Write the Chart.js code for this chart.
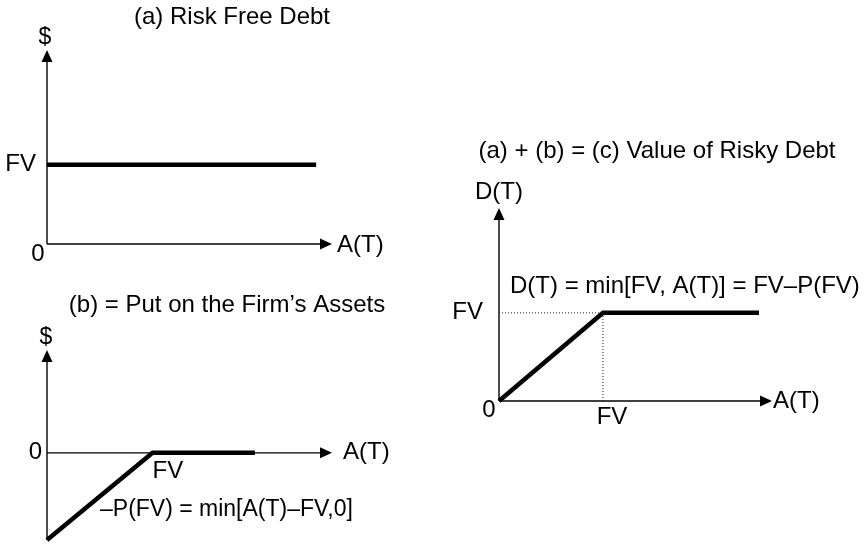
<!DOCTYPE html>
<html>
<head>
<meta charset="utf-8">
<script src="https://cdn.jsdelivr.net/npm/chart.js@4"></script>
<style>
  html,body{margin:0;padding:0;background:#fff;}
  #wrap{position:relative;width:864px;height:547px;overflow:hidden;}
  canvas{position:absolute;left:0;top:0;}
</style>
</head>
<body>
<div id="wrap">
  <canvas id="ca" width="864" height="547"></canvas>
  <canvas id="cb" width="864" height="547"></canvas>
  <canvas id="cc" width="864" height="547"></canvas>
</div>
<script>
// ---- data (FV = 1 unit; x = A(T)) ----
const riskFreeX = [0, 2.55];
const riskFreeY = [1, 1];
const putX = [0, 1, 1.97];
const putY = [-1, 0, 0];
const riskyX = [0, 1, 2.5];
const riskyY = [0, 1, 1];
const guideHX = [0, 1];
const guideHY = [1, 1];
const guideVX = [1, 1];
const guideVY = [0, 1];

const titles = ["(a) Risk Free Debt", "(b) = Put on the Firm\u2019s Assets", "(a) + (b) = (c) Value of Risky Debt"];
const yAxisLabels = ["$", "$", "D(T)"];
const xAxisLabel = "A(T)";
const fvLabel = "FV";
const zeroLabel = "0";
const putFormula = "\u2013P(FV) = min[A(T)\u2013FV,0]";
const riskyFormula = "D(T) = min[FV, A(T)] = FV\u2013P(FV)";

const FONT = '"Liberation Sans", Arial, Helvetica, sans-serif';

function pts(xs, ys){ return xs.map((x,i)=>({x:x, y:ys[i]})); }

function txt(ctx, s, x, y, align, size){
  ctx.save();
  ctx.font = (size||24) + 'px ' + FONT;
  ctx.fillStyle = '#000';
  ctx.textAlign = align || 'left';
  ctx.textBaseline = 'middle';
  ctx.fillText(s, x, y);
  ctx.restore();
}

function axesPlugin(cfg){
  return {
    id: 'axes_' + cfg.name,
    beforeDatasetsDraw(chart){
      const ctx = chart.ctx, xs = chart.scales.x, ys = chart.scales.y, a = chart.chartArea;
      const ox = xs.getPixelForValue(0), oy = ys.getPixelForValue(0);
      ctx.save();
      ctx.strokeStyle = '#000';
      ctx.fillStyle = '#000';
      ctx.lineWidth = 1.4;
      // y axis
      ctx.beginPath();
      ctx.moveTo(ox, cfg.yFromBottom ? a.bottom : oy);
      ctx.lineTo(ox, a.top + 10);
      ctx.stroke();
      // x axis
      ctx.beginPath();
      ctx.moveTo(ox, oy);
      ctx.lineTo(a.right - 10, oy);
      ctx.stroke();
      // arrowheads
      ctx.beginPath();
      ctx.moveTo(ox, a.top);
      ctx.lineTo(ox - 5.5, a.top + 12);
      ctx.lineTo(ox + 5.5, a.top + 12);
      ctx.closePath();
      ctx.fill();
      ctx.beginPath();
      ctx.moveTo(a.right, oy);
      ctx.lineTo(a.right - 12, oy - 5.5);
      ctx.lineTo(a.right - 12, oy + 5.5);
      ctx.closePath();
      ctx.fill();
      ctx.restore();
    },
    afterDraw(chart){
      cfg.labels(chart.ctx, chart.scales.x, chart.scales.y, chart.chartArea);
    }
  };
}

function makeChart(id, datasets, xmax, ymin, ymax, pad, plugin){
  return new Chart(document.getElementById(id), {
    type: 'scatter',
    data: { datasets: datasets },
    options: {
      responsive: false,
      animation: false,
      devicePixelRatio: 1,
      layout: { padding: pad },
      plugins: { legend: {display:false}, tooltip: {enabled:false}, title: {display:false} },
      scales: {
        x: { type:'linear', display:false, min:0, max:xmax },
        y: { type:'linear', display:false, min:ymin, max:ymax }
      },
      events: []
    },
    plugins: [plugin]
  });
}

function thick(data){
  return { data: data, showLine: true, borderColor: '#000', borderWidth: 4.5,
           pointRadius: 0, borderCapStyle: 'butt', borderJoinStyle: 'miter', clip: false, tension: 0 };
}
function dotted(data){
  return { data: data, showLine: true, borderColor: '#222', borderWidth: 1,
           borderDash: [1, 2], pointRadius: 0, clip: false, tension: 0 };
}

// Panel (a)
makeChart('ca', [thick(pts(riskFreeX, riskFreeY))], 2.7, 0, 2.45,
  {left:47, top:50, right:532, bottom:303},
  axesPlugin({name:'a', yFromBottom:false, labels(ctx, xs, ys, a){
    const ox = xs.getPixelForValue(0), oy = ys.getPixelForValue(0);
    txt(ctx, titles[0], 232, 17, 'center');
    txt(ctx, yAxisLabels[0], ox - 2, a.top - 12, 'center', 23);
    txt(ctx, fvLabel, ox - 11, ys.getPixelForValue(1), 'right');
    txt(ctx, zeroLabel, ox - 9, oy + 10, 'center');
    txt(ctx, xAxisLabel, a.right + 5, oy + 1, 'left');
  }}));

// Panel (b)
makeChart('cb', [thick(pts(putX, putY))], 2.7, -1, 1.18,
  {left:47, top:350, right:532, bottom:7},
  axesPlugin({name:'b', yFromBottom:true, labels(ctx, xs, ys, a){
    const ox = xs.getPixelForValue(0), oy = ys.getPixelForValue(0);
    txt(ctx, titles[1], 227, 305, 'center');
    txt(ctx, yAxisLabels[1], ox - 1, a.top - 12, 'center', 23);
    txt(ctx, zeroLabel, ox - 5, oy, 'right');
    txt(ctx, xAxisLabel, a.right + 11, oy, 'left');
    txt(ctx, fvLabel, xs.getPixelForValue(1), oy + 19, 'left');
    txt(ctx, putFormula, 100, 510, 'left', 23);
  }}));

// Panel (c)
makeChart('cc', [dotted(pts(guideHX, guideHY)), dotted(pts(guideVX, guideVY)), thick(pts(riskyX, riskyY))], 2.625, 0, 2.19,
  {left:499, top:208, right:92, bottom:146},
  axesPlugin({name:'c', yFromBottom:false, labels(ctx, xs, ys, a){
    const ox = xs.getPixelForValue(0), oy = ys.getPixelForValue(0);
    txt(ctx, titles[2], 657, 151, 'center');
    txt(ctx, yAxisLabels[2], ox, a.top - 16, 'center');
    txt(ctx, fvLabel, ox - 16, ys.getPixelForValue(1), 'right');
    txt(ctx, zeroLabel, ox - 10, oy + 9, 'center');
    txt(ctx, fvLabel, xs.getPixelForValue(1) + 9, oy + 16, 'center');
    txt(ctx, xAxisLabel, a.right + 1, oy, 'left');
    txt(ctx, riskyFormula, 510, 286, 'left');
  }}));
</script>
</body>
</html>
